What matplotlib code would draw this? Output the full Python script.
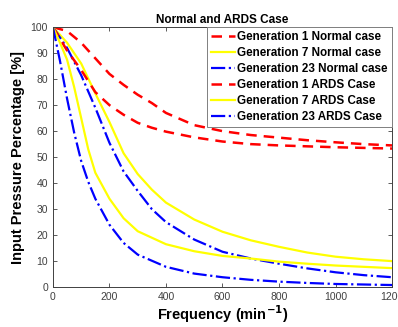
import numpy as np
import matplotlib
matplotlib.use("Agg")
import matplotlib.pyplot as plt

plt.rcParams['font.family'] = ['Liberation Sans', 'DejaVu Sans']

# values (frequency in 1/min, pressure in %)
f_g1n = [0, 50, 100, 150, 200, 250, 300, 350, 400, 500, 600, 700, 800, 900, 1000, 1100, 1200]
p_g1n = [100, 98.5, 94, 88, 82, 77.8, 74, 70.8, 67, 62.3, 60, 58.5, 57.5, 56.5, 55.7, 55, 54.5]

f_g7n = [0, 50, 100, 150, 200, 250, 300, 350, 400, 500, 600, 700, 800, 900, 1000, 1100, 1200]
p_g7n = [100, 94, 86, 74.5, 63.5, 51.5, 43.5, 37.5, 32.5, 26, 21.3, 18, 15.5, 13.3, 11.7, 10.7, 10]

f_g23n = [0, 50, 100, 150, 200, 250, 300, 350, 400, 500, 600, 700, 800, 900, 1000, 1100, 1200]
p_g23n = [100, 92, 81.5, 69, 55.5, 44.5, 37, 30, 25, 18.3, 13.6, 11, 9, 7.2, 5.7, 4.6, 3.8]

f_g1a = [0, 50, 100, 150, 200, 250, 300, 350, 400, 500, 600, 700, 800, 1000, 1200]
p_g1a = [100, 91, 83.5, 75, 70, 66.3, 63.2, 61.3, 59.8, 57.6, 56, 55, 54.5, 53.8, 53.3]

f_g7a = [0, 25, 50, 75, 100, 125, 150, 200, 250, 300, 400, 500, 600, 700, 800, 900, 1000, 1100, 1200]
p_g7a = [100, 94, 87.5, 77, 65, 53, 44, 34, 26.5, 21.5, 16.5, 13.8, 12, 11, 9.8, 9, 8.3, 7.8, 7.3]

f_g23a = [0, 25, 50, 75, 100, 125, 150, 200, 250, 300, 400, 500, 600, 700, 800, 900, 1000, 1100, 1200]
p_g23a = [100, 87, 72.5, 59.5, 48.5, 40.5, 34, 24, 17, 12.5, 7.8, 5.2, 3.8, 2.8, 2.1, 1.6, 1.2, 1.0, 0.8]

labels = ["Generation 1 Normal case", "Generation 7 Normal case", "Generation 23 Normal case",
          "Generation 1 ARDS Case", "Generation 7 ARDS Case", "Generation 23 ARDS Case"]

fig = plt.figure(figsize=(3.98, 3.27), dpi=100)
ax = fig.add_axes([0.133, 0.122, 0.852, 0.795])

red_ls = (0, (4.2, 2.8))
ax.plot(f_g1n, p_g1n, color='#ff0000', ls=red_ls, lw=1.8, label=labels[0])
ax.plot(f_g7n, p_g7n, color='#ffff00', ls='-', lw=1.6, label=labels[1])
ax.plot(f_g23n, p_g23n, color='#0000ff', ls='-.', lw=1.6, label=labels[2])
ax.plot(f_g1a, p_g1a, color='#ff0000', ls=red_ls, lw=1.8, label=labels[3])
ax.plot(f_g7a, p_g7a, color='#ffff00', ls='-', lw=1.6, label=labels[4])
ax.plot(f_g23a, p_g23a, color='#0000ff', ls='-.', lw=1.6, label=labels[5])

ax.set_xlim(0, 1200)
ax.set_ylim(0, 100)
ax.set_xticks(np.arange(0, 1201, 200))
ax.set_yticks(np.arange(0, 101, 10))
ax.tick_params(direction='in', top=True, right=True, labelsize=7.5,
               colors='#404040', length=3, width=0.6)
for s in ax.spines.values():
    s.set_color('#404040')
    s.set_linewidth(0.7)

ax.set_title("Normal and ARDS Case", fontsize=8.5, fontweight='bold', pad=3)
ax.set_xlabel("Frequency (min$^{\\mathbf{-1}}$)", fontsize=10.5, fontweight='bold', labelpad=1)
ax.set_ylabel("Input Pressure Percentage [%]", fontsize=10.5, fontweight='bold', labelpad=4)

leg = ax.legend(loc='upper right', prop={'weight': 'bold', 'size': 8.4},
                fancybox=False, framealpha=1, edgecolor='#808080', borderaxespad=0,
                handlelength=2.1, handletextpad=0.2, labelspacing=0.34, borderpad=0.35)
leg.get_frame().set_linewidth(0.7)

fig.savefig("out.png", dpi=100)
